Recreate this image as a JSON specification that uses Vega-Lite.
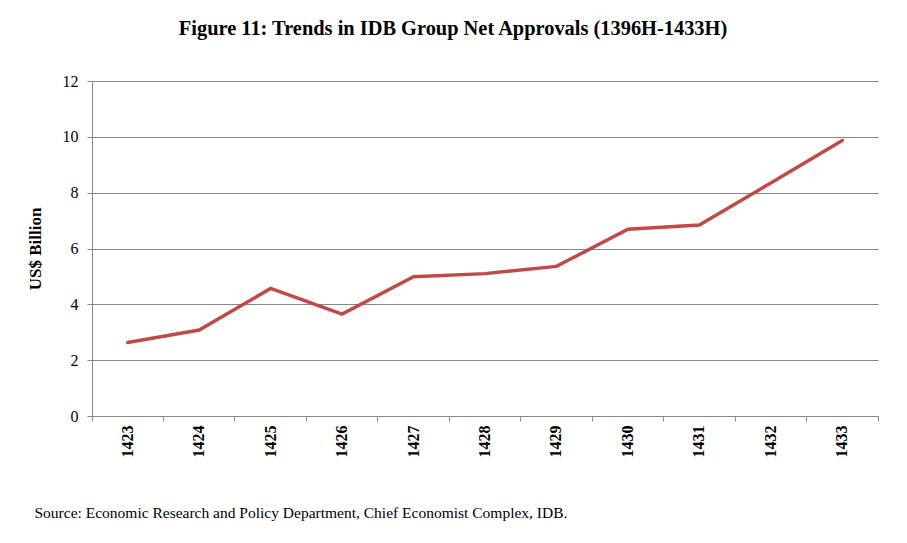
{
  "$schema": "https://vega.github.io/schema/vega-lite/v6.json",
  "width": 786,
  "height": 335,
  "autosize": {"type": "none"},
  "padding": {"left": 92, "top": 81, "right": 29, "bottom": 127},
  "background": "white",
  "title": {
    "text": "Figure 11: Trends in IDB Group Net Approvals (1396H-1433H)",
    "font": "Liberation Serif",
    "fontSize": 20.4,
    "fontWeight": "bold",
    "color": "black",
    "anchor": "middle",
    "dx": -32,
    "offset": 34
  },
  "data": {
    "values": [
      {"year": "1423", "value": 2.63},
      {"year": "1424", "value": 3.08},
      {"year": "1425", "value": 4.57},
      {"year": "1426", "value": 3.65},
      {"year": "1427", "value": 4.99},
      {"year": "1428", "value": 5.10},
      {"year": "1429", "value": 5.36},
      {"year": "1430", "value": 6.69},
      {"year": "1431", "value": 6.84},
      {"year": "1432", "value": 8.35},
      {"year": "1433", "value": 9.87}
    ]
  },
  "mark": {"type": "line", "color": "#BE4B48", "strokeWidth": 3.5, "strokeCap": "round"},
  "encoding": {
    "x": {
      "field": "year",
      "type": "ordinal",
      "scale": {"type": "band", "paddingInner": 0, "paddingOuter": 0},
      "axis": {
        "title": "Source: Economic Research and Policy Department, Chief Economist Complex, IDB.",
        "titleFont": "Liberation Serif",
        "titleFontSize": 15.5,
        "titleFontWeight": "normal",
        "titleColor": "black",
        "titleAnchor": "start",
        "titleAlign": "left",
        "titleBaseline": "middle",
        "titleX": -58,
        "titleY": 96,
        "labelAngle": -90,
        "labelFont": "Liberation Serif",
        "labelFontSize": 16,
        "labelFontWeight": "bold",
        "labelColor": "black",
        "labelPadding": 4,
        "labelAlign": "right",
        "labelBaseline": "middle",
        "bandPosition": 1,
        "tickExtra": true,
        "tickSize": 5,
        "tickColor": "#878787",
        "domainColor": "#878787",
        "grid": false
      }
    },
    "y": {
      "field": "value",
      "type": "quantitative",
      "scale": {"domain": [0, 12], "nice": false},
      "axis": {
        "title": "US$ Billion",
        "titleFont": "Liberation Serif",
        "titleFontSize": 17,
        "titleFontWeight": "bold",
        "titleColor": "black",
        "titlePadding": 18,
        "values": [0, 2, 4, 6, 8, 10, 12],
        "labelFont": "Liberation Serif",
        "labelFontSize": 16,
        "labelColor": "black",
        "labelPadding": 9,
        "tickSize": 5,
        "tickColor": "#878787",
        "domainColor": "#878787",
        "grid": true,
        "gridColor": "#878787",
        "gridOpacity": 1
      }
    }
  },
  "config": {"view": {"stroke": null}}
}
